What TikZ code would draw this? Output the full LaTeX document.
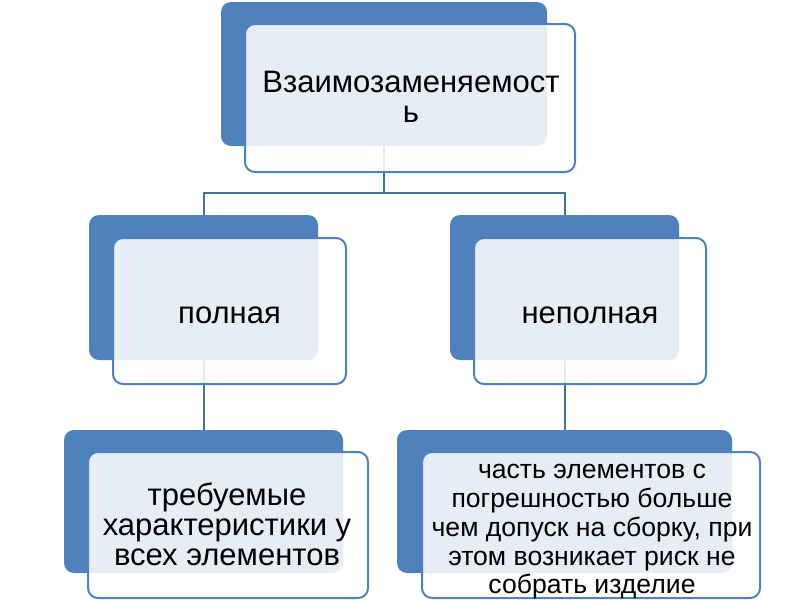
\documentclass[tikz,border=0pt]{standalone}
\usepackage{fontspec}
\setmainfont{Liberation Sans}
\definecolor{accent}{HTML}{4F81BD}
\definecolor{connblue}{HTML}{41719C}
\begin{document}
\begin{tikzpicture}[x=1pt,y=-1pt,
  back/.style={draw=none, fill=accent, rounded corners=10pt, inner sep=0pt},
  front/.style={draw=accent, line width=2pt, fill=white, fill opacity=0.86, rounded corners=10pt, inner sep=0pt},
  conn/.style={draw=connblue, line width=2pt},
  lbl/.style={text=black, align=center, inner sep=0pt, font=\fontsize{31}{30}\selectfont},
  lblsmall/.style={text=black, align=center, inner sep=0pt, font=\fontsize{26.6}{28.75}\selectfont}]
\useasboundingbox (0,0) rectangle (800,600);
\fill[white] (0,0) rectangle (800,600);
% back boxes
\node[back, minimum width=326pt, minimum height=144pt] (topB) at (384,74) {};
\node[back, minimum width=229pt, minimum height=145pt] (lB) at (203.5,287.5) {};
\node[back, minimum width=229pt, minimum height=145pt] (rB) at (564.5,287.5) {};
\node[back, minimum width=279pt, minimum height=143pt] (llB) at (203.5,501.5) {};
\node[back, minimum width=335pt, minimum height=143pt] (rrB) at (564.5,501.5) {};
% connectors
\coordinate (j) at (384,193);
\draw[conn] (topB.south) -- (j);
\draw[conn] (j) -| (lB.north);
\draw[conn] (j) -| (rB.north);
\draw[conn] (lB.south) -- (llB.north);
\draw[conn] (rB.south) -- (rrB.north);
% front boxes
\node[front, minimum width=330pt, minimum height=148pt] (topF) at (410,98) {};
\node[front, minimum width=233pt, minimum height=146pt] (lF) at (229.5,311) {};
\node[front, minimum width=232pt, minimum height=146pt] (rF) at (590,311) {};
\node[front, minimum width=280pt, minimum height=146pt] (llF) at (228,525) {};
\node[front, minimum width=338pt, minimum height=146pt] (rrF) at (591,525) {};
% labels
\node[lbl] (topT) at (411,97) {Взаимозаменяемост\\ь};
\node[lbl] (lT) at (229.5,315) {полная};
\node[lbl] (rT) at (590,315) {неполная};
\node[lbl] (llT) at (227,524.5) {требуемые\\характеристики у\\всех элементов};
\node[lblsmall] (rrT) at (592,532) {часть элементов с\\погрешностью больше\\чем допуск на сборку, при\\этом возникает риск не\\собрать изделие};
\end{tikzpicture}
\end{document}
